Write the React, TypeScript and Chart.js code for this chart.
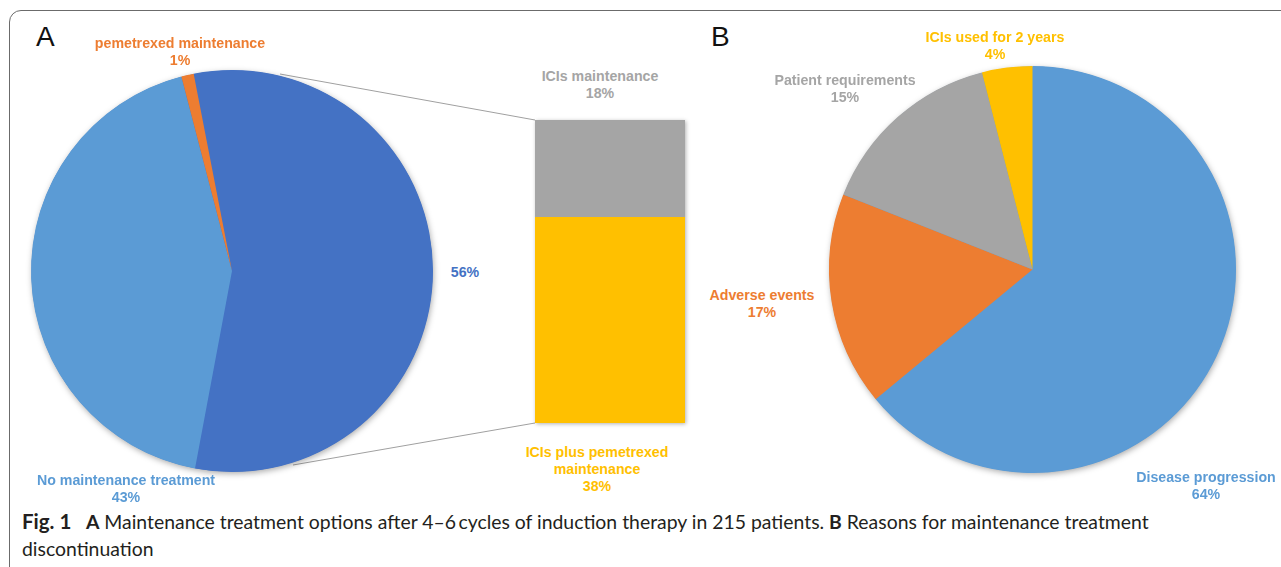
import React, { useEffect, useRef } from "react";
import { Chart, registerables } from "chart.js";

Chart.register(...registerables);

// ---- Data ----
const maintenanceCategories = ["ICIs-based maintenance", "No maintenance treatment", "pemetrexed maintenance"];
const maintenanceValues = [56, 43, 1];
const maintenanceColors = ["#4472C4", "#5B9BD5", "#ED7D31"];

const iciCategories = ["ICIs plus pemetrexed maintenance", "ICIs maintenance"];
const iciValues = [38, 18];
const iciColors = ["#FFC000", "#A5A5A5"];

const reasonCategories = ["Disease progression", "Adverse events", "Patient requirements", "ICIs used for 2 years"];
const reasonValues = [64, 17, 15, 4];
const reasonColors = ["#5B9BD5", "#ED7D31", "#A5A5A5", "#FFC000"];

const captionLine1 = "Maintenance treatment options after 4–6\u2009cycles of induction therapy in 215 patients.";
const captionLine2 = "Reasons for maintenance treatment";
const captionLine3 = "discontinuation";

const pieShadow = {
  id: "pieShadow",
  beforeDatasetsDraw(chart: any) {
    const meta = chart.getDatasetMeta(0);
    const arc = meta.data[0];
    if (!arc) return;
    const { x, y, outerRadius } = arc.getProps(["x", "y", "outerRadius"], true);
    const ctx = chart.ctx;
    ctx.save();
    ctx.shadowColor = "rgba(0,0,0,0.35)";
    ctx.shadowBlur = 6;
    ctx.shadowOffsetX = 1;
    ctx.shadowOffsetY = 2;
    ctx.beginPath();
    ctx.arc(x, y, outerRadius - 0.5, 0, Math.PI * 2);
    ctx.fillStyle = chart.data.datasets[0].backgroundColor[0];
    ctx.fill();
    ctx.restore();
  },
};

const barShadow = {
  id: "barShadow",
  beforeDatasetsDraw(chart: any) {
    const a = chart.chartArea;
    const ctx = chart.ctx;
    ctx.save();
    ctx.shadowColor = "rgba(0,0,0,0.3)";
    ctx.shadowBlur = 4;
    ctx.shadowOffsetX = 1;
    ctx.shadowOffsetY = 1;
    ctx.fillStyle = "#ffffff";
    ctx.fillRect(a.left, a.top, a.right - a.left, a.bottom - a.top);
    ctx.restore();
  },
};

function PieCanvas(props: { values: number[]; labels: string[]; colors: string[]; rotation: number; left: number; top: number; size: number; pad: number }) {
  const ref = useRef<HTMLCanvasElement>(null);
  useEffect(() => {
    const chart = new Chart(ref.current as HTMLCanvasElement, {
      type: "pie",
      data: {
        labels: props.labels,
        datasets: [
          {
            data: props.values,
            backgroundColor: props.colors,
            borderWidth: 0,
            hoverOffset: 0,
            offset: 0,
          },
        ],
      },
      options: {
        animation: false,
        responsive: false,
        maintainAspectRatio: false,
        rotation: props.rotation,
        layout: { padding: props.pad },
        plugins: { legend: { display: false }, tooltip: { enabled: false } },
        events: [],
      },
      plugins: [pieShadow],
    });
    return () => chart.destroy();
  }, []);
  return (
    <canvas
      ref={ref}
      width={props.size}
      height={props.size}
      style={{ position: "absolute", left: props.left, top: props.top, width: props.size, height: props.size }}
    />
  );
}

function BarCanvas() {
  const ref = useRef<HTMLCanvasElement>(null);
  useEffect(() => {
    const chart = new Chart(ref.current as HTMLCanvasElement, {
      type: "bar",
      data: {
        labels: ["ICIs"],
        datasets: iciCategories.map((c, i) => ({
          label: c,
          data: [iciValues[i]],
          backgroundColor: iciColors[i],
          borderWidth: 0,
          barPercentage: 1,
          categoryPercentage: 1,
        })),
      },
      options: {
        animation: false,
        responsive: false,
        maintainAspectRatio: false,
        layout: { padding: 6 },
        scales: {
          x: { display: false, stacked: true },
          y: { display: false, stacked: true, min: 0, max: iciValues.reduce((a, b) => a + b, 0) },
        },
        plugins: { legend: { display: false }, tooltip: { enabled: false } },
        events: [],
      },
      plugins: [barShadow],
    });
    return () => chart.destroy();
  }, []);
  return <canvas ref={ref} width={162} height={315} style={{ position: "absolute", left: 529, top: 114, width: 162, height: 315 }} />;
}

const labelFont = "bold 14.2px 'Liberation Sans', Arial, sans-serif";

function Label(props: { x: number; y: number; color: string; lines: string[] }) {
  return (
    <div
      style={{
        position: "absolute",
        left: props.x,
        top: props.y - 8.5,
        transform: "translateX(-50%)",
        font: labelFont,
        lineHeight: "17px",
        color: props.color,
        textAlign: "center",
        whiteSpace: "nowrap",
      }}
    >
      {props.lines.map((l, i) => (
        <div key={i}>{l}</div>
      ))}
    </div>
  );
}

export default function App() {
  return (
    <div style={{ position: "absolute", left: 0, top: 0, width: 1281, height: 567, overflow: "hidden", background: "#fff" }}>
      <div
        style={{
          position: "absolute",
          left: 9,
          top: 10,
          width: 1400,
          height: 700,
          border: "1.5px solid #6b6b6b",
          borderRadius: 12,
          boxSizing: "border-box",
        }}
      />
      <div style={{ position: "absolute", left: 36, top: 21, font: "28px 'Liberation Sans', Arial, sans-serif", color: "#111" }}>A</div>
      <div style={{ position: "absolute", left: 711, top: 21, font: "28px 'Liberation Sans', Arial, sans-serif", color: "#111" }}>B</div>

      <svg width={1281} height={567} style={{ position: "absolute", left: 0, top: 0 }}>
        <line x1={280} y1={74} x2={535} y2={120} stroke="#a0a0a0" strokeWidth={1} />
        <line x1={293} y1={465} x2={535} y2={423} stroke="#a0a0a0" strokeWidth={1} />
      </svg>

      <PieCanvas
        values={maintenanceValues}
        labels={maintenanceCategories}
        colors={maintenanceColors}
        rotation={-11}
        left={22}
        top={61}
        size={420}
        pad={9}
      />
      <BarCanvas />
      <PieCanvas
        values={reasonValues}
        labels={reasonCategories}
        colors={reasonColors}
        rotation={0}
        left={820}
        top={57}
        size={425}
        pad={9}
      />

      <Label x={180} y={43} color={maintenanceColors[2]} lines={[maintenanceCategories[2], maintenanceValues[2] + "%"]} />
      <Label x={465} y={272} color={maintenanceColors[0]} lines={[maintenanceValues[0] + "%"]} />
      <Label x={126} y={480} color={maintenanceColors[1]} lines={[maintenanceCategories[1], maintenanceValues[1] + "%"]} />
      <Label x={600} y={76} color={iciColors[1]} lines={[iciCategories[1], iciValues[1] + "%"]} />
      <Label x={597} y={452} color={iciColors[0]} lines={["ICIs plus pemetrexed", "maintenance", iciValues[0] + "%"]} />

      <Label x={995} y={37} color={reasonColors[3]} lines={[reasonCategories[3], reasonValues[3] + "%"]} />
      <Label x={845} y={80} color={reasonColors[2]} lines={[reasonCategories[2], reasonValues[2] + "%"]} />
      <Label x={762} y={295} color={reasonColors[1]} lines={[reasonCategories[1], reasonValues[1] + "%"]} />
      <Label x={1206} y={477} color={reasonColors[0]} lines={[reasonCategories[0], reasonValues[0] + "%"]} />

      <div
        style={{
          position: "absolute",
          left: 22,
          top: 508,
          font: "19.4px Lato, 'Open Sans', sans-serif",
          lineHeight: "27px",
          color: "#231f20",
          whiteSpace: "nowrap",
        }}
      >
        <div>
          <b style={{ fontSize: "20.5px" }}>Fig. 1</b>
          {"\u2003"}
          <b>A</b> {captionLine1} <b>B</b> {captionLine2}
        </div>
        <div>{captionLine3}</div>
      </div>
    </div>
  );
}
